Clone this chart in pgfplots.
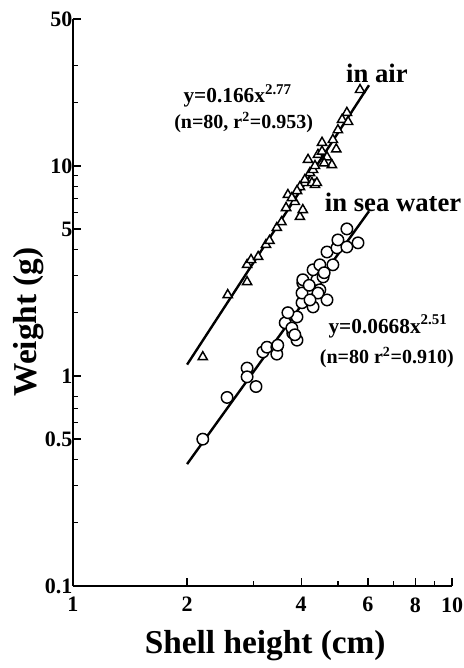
\documentclass[border=0pt]{standalone}
\usepackage{fontspec}
\setmainfont{Liberation Serif}
\usepackage{pgfplots}
\pgfplotsset{compat=1.18}

\begin{document}
\begin{tikzpicture}
\useasboundingbox (-54.75pt,-61.5pt) rectangle (293.25pt,439.5pt);
\begin{axis}[
  scale only axis, width=284.25pt, height=425.25pt,
  xmode=log, ymode=log,
  xmin=1, xmax=10, ymin=0.1, ymax=50,
  axis x line*=bottom, axis y line*=left,
  axis line style={line width=1.3pt, -},
  xtick={1,2,4,6,8,10}, xticklabels={1,2,4,6,8,10},
  minor xtick={3,5,7,9},
  ytick={0.1,0.5,1,5,10,50}, yticklabels={0.1,0.5,1,5,10,50},
  minor ytick={0.2,0.3,0.4,0.6,0.7,0.8,2,3,4,6,7,8,9,20,30},
  tick align=inside,
  major tick length=6pt, minor tick length=4pt,
  every tick/.style={line width=1pt, black},
  /pgf/number format/assume math mode=true,
  ticklabel style={font=\fontsize{16.5}{16.5}\selectfont\bfseries},
  xticklabel style={yshift=-5pt},
  yticklabel style={xshift=3pt},
  clip=false,
]
% regression lines
\addplot[black, line width=1.8pt] coordinates {(2,1.132) (6.04,24.2)};
\addplot[black, line width=1.8pt] coordinates {(2,0.3805) (6.04,6.08)};

% in air
\addplot[only marks, mark=triangle*, mark size=4pt,
  mark options={draw=black, fill=white, line width=1.1pt}] coordinates {
  (2.20,1.23) (2.56,2.43) (2.88,2.80) (2.88,3.38) (2.95,3.57) (3.08,3.69)
  (3.23,4.21) (3.30,4.40) (3.45,5.07) (3.55,5.40) (3.65,6.31) (3.69,7.28)
  (3.85,6.74) (3.97,5.72) (4.04,6.17) (4.09,8.30) (4.35,8.12) (4.22,9.26)
  (3.78,7.04) (3.97,7.94) (4.27,8.30) (4.40,8.30) (4.09,8.58) (4.30,9.57)
  (4.17,10.7) (4.43,11.3) (4.54,11.7) (4.68,11.0) (4.82,10.1) (4.54,12.9)
  (4.85,13.3) (5.00,14.8) (5.13,16.6) (5.32,16.2) (5.28,17.9) (5.72,23.0)
  (4.60,10.3) (4.95,12.0) (4.35,10.0) (3.90,7.60)
};

% in sea water
\addplot[only marks, mark=*, mark size=4.3pt,
  mark options={draw=black, fill=white, line width=1.1pt}] coordinates {
  (2.20,0.50) (2.55,0.79) (2.88,1.09) (2.88,0.99) (3.04,0.89) (3.17,1.30)
  (3.25,1.37) (3.45,1.37) (3.45,1.27) (3.47,1.40) (3.80,1.60) (3.90,1.48)
  (3.63,1.79) (3.78,1.69) (3.85,1.57) (3.90,1.91) (3.69,2.00) (4.02,2.23)
  (4.04,2.77) (4.17,2.57) (4.40,2.87) (4.30,2.13) (4.68,2.30) (4.48,2.57)
  (4.04,2.87) (4.02,2.48) (4.43,2.48) (4.22,2.30) (4.30,3.20) (4.57,2.96)
  (4.48,3.38) (4.85,3.38) (4.68,3.89) (4.97,4.07) (5.00,4.44) (5.28,4.11)
  (5.28,5.01) (5.65,4.30) (4.20,2.70) (4.60,3.10)
};

% annotations
\node[font=\fontsize{20}{20}\selectfont\bfseries] at (axis cs:6.34,27.7) {in air};
\node[font=\fontsize{16}{16}\selectfont\bfseries] at (axis cs:2.72,21.5) {y=0.166x\textsuperscript{2.77}};
\node[font=\fontsize{15}{15}\selectfont\bfseries] at (axis cs:2.82,16.0) {(n=80, r\textsuperscript{2}=0.953)};
\node[font=\fontsize{20}{20}\selectfont\bfseries] at (axis cs:6.99,6.67) {in sea water};
\node[font=\fontsize{16}{16}\selectfont\bfseries] at (axis cs:6.78,1.72) {y=0.0668x\textsuperscript{2.51}};
\node[font=\fontsize{15}{15}\selectfont\bfseries] at (axis cs:6.73,1.22) {(n=80 r\textsuperscript{2}=0.910)};

% axis labels
\node[rotate=90, font=\fontsize{25}{25}\selectfont\bfseries] at (axis description cs:-0.116,0.466) {Weight (g)};
\node[font=\fontsize{25}{25}\selectfont\bfseries] at (axis description cs:0.507,-0.106) {Shell height (cm)};
\end{axis}
\end{tikzpicture}
\end{document}
